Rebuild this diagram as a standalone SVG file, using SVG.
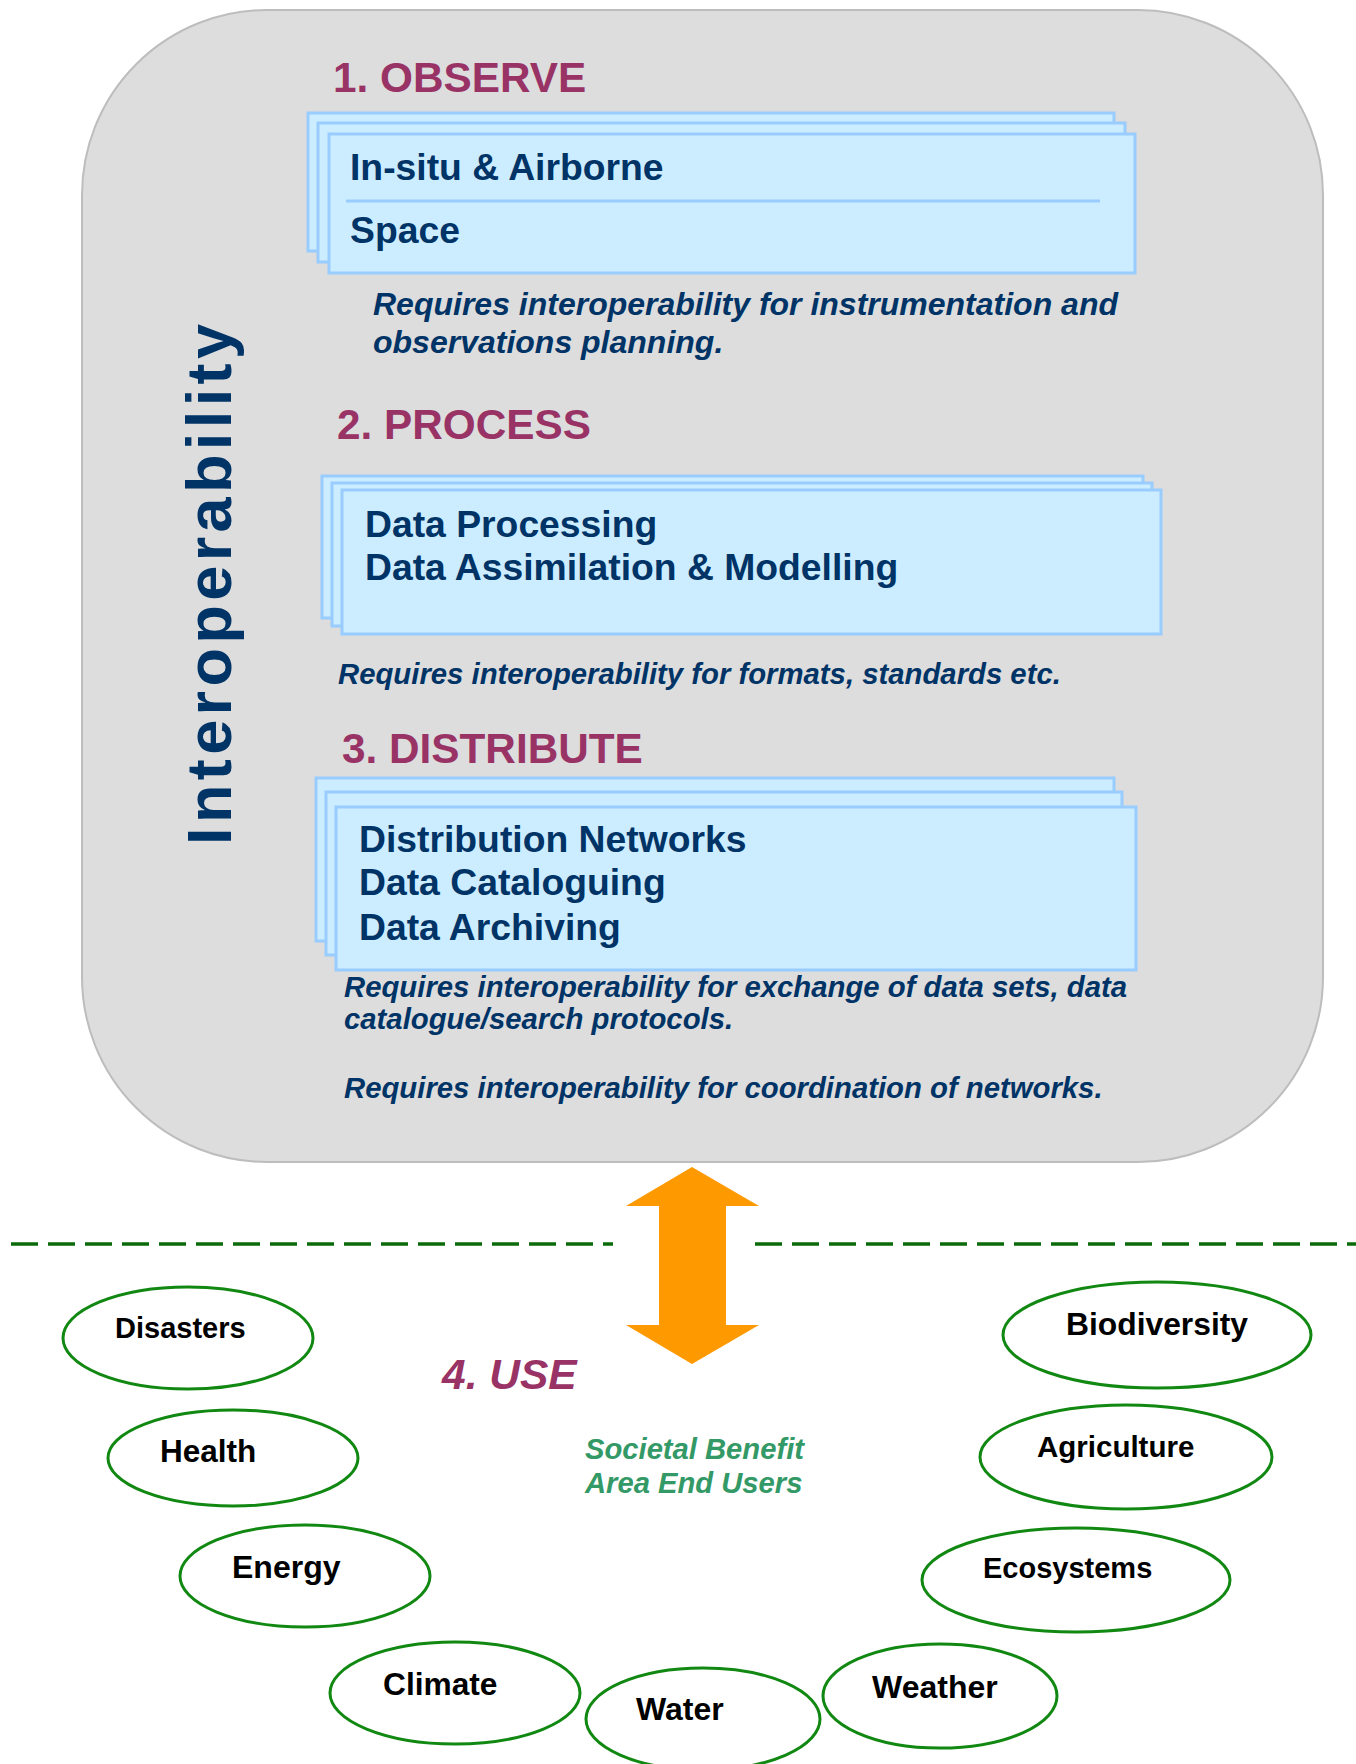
<svg xmlns="http://www.w3.org/2000/svg" width="1356" height="1764" viewBox="0 0 1356 1764">
<style>
.bg{fill:#dddddd;stroke:#bdbdbd;stroke-width:2}
.card{fill:#ccecff;stroke:#99ccff;stroke-width:3}
.head{font-family:"Liberation Sans",Arial,sans-serif;font-weight:bold;font-size:42.3px;fill:#993366}
.inner{font-family:"Liberation Sans",Arial,sans-serif;font-weight:bold;font-size:37.3px;fill:#003366}
.note{font-family:"Liberation Sans",Arial,sans-serif;font-weight:bold;font-style:italic;font-size:29.3px;fill:#003366}
.note-lg{font-family:"Liberation Sans",Arial,sans-serif;font-weight:bold;font-style:italic;font-size:32px;fill:#003366}
.sba{fill:#ffffff;stroke:#118811;stroke-width:3}
.sbt{font-family:"Liberation Sans",Arial,sans-serif;font-weight:bold;fill:#000000}
</style>
<rect width="1356" height="1764" fill="#ffffff"/>
<g id="interoperability-frame">
<rect class="bg" x="82" y="10" width="1241" height="1152" rx="185" ry="185"/>
<text transform="translate(231,845) rotate(-90)" font-family="Liberation Sans, Arial, sans-serif" font-weight="bold" font-size="63" fill="#003366" textLength="521" lengthAdjust="spacing">Interoperability</text>
</g>
<g id="observe">
<text class="head" x="333" y="92">1. OBSERVE</text>
<rect class="card" x="308" y="113" width="806" height="138"/>
<rect class="card" x="318" y="123" width="807" height="139"/>
<rect class="card" x="329" y="134" width="806" height="139"/>
<line x1="346" y1="201" x2="1100" y2="201" stroke="#99ccff" stroke-width="3"/>
<text class="inner" x="350" y="180">In-situ &amp; Airborne</text>
<text class="inner" x="350" y="243">Space</text>
<text class="note-lg" x="373" y="315">Requires interoperability for instrumentation and</text>
<text class="note-lg" x="373" y="353">observations planning.</text>
</g>
<g id="process">
<text class="head" x="337" y="439">2. PROCESS</text>
<rect class="card" x="322" y="476" width="821" height="142"/>
<rect class="card" x="332" y="483" width="820" height="143"/>
<rect class="card" x="342" y="490" width="819" height="144"/>
<text class="inner" x="365" y="537">Data Processing</text>
<text class="inner" x="365" y="580">Data Assimilation &amp; Modelling</text>
<text class="note" x="338" y="684">Requires interoperability for formats, standards etc.</text>
</g>
<g id="distribute">
<text class="head" x="342" y="763">3. DISTRIBUTE</text>
<rect class="card" x="316" y="778" width="798" height="163"/>
<rect class="card" x="326" y="792" width="796" height="163"/>
<rect class="card" x="336" y="807" width="800" height="163"/>
<text class="inner" x="359" y="852">Distribution Networks</text>
<text class="inner" x="359" y="895">Data Cataloguing</text>
<text class="inner" x="359" y="940">Data Archiving</text>
<text class="note" x="344" y="997">Requires interoperability for exchange of data sets, data</text>
<text class="note" x="344" y="1029">catalogue/search protocols.</text>
<text class="note" x="344" y="1098">Requires interoperability for coordination of networks.</text>
</g>
<g id="connectors">
<line x1="11" y1="1244" x2="613" y2="1244" stroke="#0b6b0b" stroke-width="3.5" stroke-dasharray="27 10"/>
<line x1="755" y1="1244" x2="1356" y2="1244" stroke="#0b6b0b" stroke-width="3.5" stroke-dasharray="27 10"/>
<polygon points="692,1167 759,1206 726,1206 726,1325 759,1325 692,1364 626,1325 659,1325 659,1206 626,1206" fill="#ff9900"/>
</g>
<g id="use">
<text x="442" y="1389" font-family="Liberation Sans, Arial, sans-serif" font-weight="bold" font-style="italic" font-size="42.5" fill="#993366">4. USE</text>
<text x="585" y="1459" font-family="Liberation Sans, Arial, sans-serif" font-weight="bold" font-style="italic" font-size="29.2" fill="#339966">Societal Benefit</text>
<text x="585" y="1493" font-family="Liberation Sans, Arial, sans-serif" font-weight="bold" font-style="italic" font-size="29.2" fill="#339966">Area End Users</text>
</g>
<g id="disasters"><ellipse class="sba" cx="188" cy="1338" rx="125" ry="51"/><text class="sbt" x="115" y="1338" style="font-size:29px">Disasters</text></g>
<g id="health"><ellipse class="sba" cx="233" cy="1458" rx="125" ry="48"/><text class="sbt" x="160" y="1462" style="font-size:31.5px">Health</text></g>
<g id="energy"><ellipse class="sba" cx="305" cy="1576" rx="125" ry="51"/><text class="sbt" x="232" y="1578" style="font-size:32px">Energy</text></g>
<g id="climate"><ellipse class="sba" cx="455" cy="1693" rx="125" ry="51"/><text class="sbt" x="383" y="1695" style="font-size:31.7px">Climate</text></g>
<g id="water"><ellipse class="sba" cx="703" cy="1719" rx="117" ry="51"/><text class="sbt" x="636" y="1720" style="font-size:32px">Water</text></g>
<g id="weather"><ellipse class="sba" cx="940" cy="1696" rx="117" ry="52"/><text class="sbt" x="872" y="1698" style="font-size:32px">Weather</text></g>
<g id="ecosystems"><ellipse class="sba" cx="1076" cy="1580" rx="154" ry="52"/><text class="sbt" x="983" y="1578" style="font-size:29px">Ecosystems</text></g>
<g id="agriculture"><ellipse class="sba" cx="1126" cy="1457" rx="146" ry="52"/><text class="sbt" x="1037" y="1457" style="font-size:29.5px">Agriculture</text></g>
<g id="biodiversity"><ellipse class="sba" cx="1157" cy="1335" rx="154" ry="53"/><text class="sbt" x="1066" y="1335" style="font-size:31.8px">Biodiversity</text></g>
</svg>
